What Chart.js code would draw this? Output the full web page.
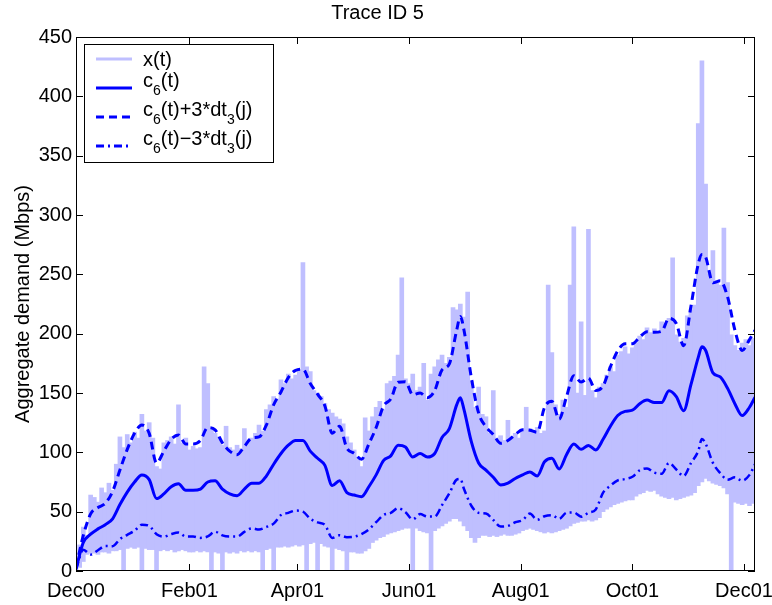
<!DOCTYPE html>
<html>
<head>
<meta charset="utf-8">
<title>Trace ID 5</title>
<script src="https://cdn.jsdelivr.net/npm/chart.js@4.4.1/dist/chart.umd.min.js"></script>
<style>
  body { margin: 0; background: #fff; }
  #wrap { width: 772px; height: 605px; }
</style>
</head>
<body>
<div id="wrap"><canvas id="trace-chart" width="772" height="605"></canvas></div>
<script>
// days counted from 1 Dec 2000
const tickDays   = [0, 62, 121, 182, 243, 304, 365];
const tickLabels = ["Dec00", "Feb01", "Apr01", "Jun01", "Aug01", "Oct01", "Dec01"];
const yTicks     = [0, 50, 100, 150, 200, 250, 300, 350, 400, 450];
const lastDay    = 371;

// x(t): per 2-day sample, highest and lowest reading
const sampleStep = 2;
const xHigh = [
  4, 22, 37, 30, 64, 62, 58, 70, 66, 74,
  68, 90, 113, 104, 115, 108, 117, 112, 132, 118,
  125, 112, 88, 86, 108, 110, 113, 107, 140, 108,
  112, 102, 105, 103, 104, 172, 158, 119, 116, 113,
  106, 122, 104, 102, 106, 103, 120, 108, 112, 116,
  123, 118, 136, 140, 147, 145, 161, 158, 166, 162,
  165, 170, 260, 172, 168, 152, 150, 147, 141, 136,
  133, 130, 128, 124, 113, 108, 102, 96, 88, 129,
  118, 130, 138, 143, 136, 158, 160, 164, 182, 247,
  162, 158, 166, 152, 155, 175, 144, 166, 172, 178,
  182, 175, 180, 222, 220, 225, 214, 235, 160, 138,
  155, 132, 130, 116, 152, 112, 114, 110, 127, 113,
  116, 112, 118, 138, 120, 117, 121, 116, 118, 241,
  184, 140, 132, 144, 138, 241, 290, 150, 210, 148,
  288, 152, 146, 155, 158, 165, 172, 168, 182, 185,
  189, 183, 188, 192, 198, 195, 205, 201, 204, 202,
  210, 208, 213, 264, 199, 193, 196, 215, 220, 224,
  377, 430, 326, 250, 270, 245, 241, 289, 243, 199,
  190, 186, 192, 195, 190, 196
];
const xLow = [
  0, 3, 8, 14, 15, 15, 14, 16, 16, 15,
  17, 17, 18, 0, 19, 20, 19, 20, 0, 19,
  18, 18, 0, 17, 18, 17, 18, 16, 17, 18,
  17, 16, 16, 17, 16, 17, 16, 0, 16, 15,
  0, 16, 15, 16, 15, 17, 16, 17, 16, 17,
  16, 0, 18, 19, 0, 20, 20, 21, 20, 21,
  22, 21, 22, 0, 23, 24, 0, 23, 21, 20,
  0, 19, 18, 17, 0, 16, 16, 15, 15, 17,
  19, 24, 26, 28, 29, 31, 32, 33, 34, 35,
  36, 36, 0, 36, 34, 33, 32, 0, 34, 36,
  38, 40, 42, 44, 44, 42, 38, 34, 28, 24,
  28, 30, 30, 29, 30, 29, 30, 31, 30, 30,
  31, 32, 34, 35, 36, 35, 34, 33, 32, 33,
  32, 33, 34, 35, 36, 38, 40, 41, 42, 42,
  43, 42, 43, 45, 50, 52, 54, 56, 57, 58,
  59, 60, 60, 63, 65, 66, 68, 67, 68, 65,
  63, 62, 61, 62, 60, 61, 62, 63, 64, 66,
  72, 75, 78, 76, 74, 73, 72, 70, 65, 0,
  58, 57, 56, 57, 55, 57
];

// smoothed level c6(t) and spread dt3(j)
const curveDays = [
  0, 4, 8, 12, 16, 20, 24, 28, 32, 36, 40, 44, 48, 52, 56, 60, 64, 68, 72, 76,
  80, 84, 88, 92, 96, 100, 104, 108, 112, 116, 120, 124, 128, 132, 136, 140, 144, 148, 152, 156,
  160, 164, 168, 172, 176, 180, 184, 188, 192, 196, 200, 204, 208, 210, 212, 216, 220, 224, 228, 232,
  236, 240, 244, 248, 252, 256, 260, 264, 268, 272, 276, 280, 284, 288, 292, 296, 300, 304, 308, 312,
  316, 320, 324, 328, 332, 336, 340, 342, 344, 348, 352, 356, 360, 364, 368, 371
];
const c6 = [
  2, 24, 31, 35.5, 39, 44, 56, 66.5, 75, 81, 77, 61, 65, 71, 73.5, 68, 68, 69, 75, 76,
  69, 65, 63.5, 69, 74, 74, 80, 90, 99, 106, 110, 110, 101, 95, 89, 72, 76, 66, 64, 62.6,
  71, 81, 93, 97, 106, 104.5, 96, 99, 96, 99, 112.5, 120, 140, 146, 136, 109, 91, 85, 79, 72.5,
  74, 78, 81, 83.5, 80, 92, 95, 86, 98, 107, 102.5, 105.8, 102, 111, 122, 131, 134.5, 135.5, 141, 144,
  142, 142, 152, 147, 135, 157, 180, 189, 186, 167, 163.5, 154, 141, 131, 138, 146.4
];
const dt3 = [
  0.3, 2, 5.7, 6, 6, 7.7, 9.7, 12, 13.7, 14, 13, 10, 12, 13.3, 13.7, 13, 13, 13.7, 15.3, 14.3,
  13, 12, 11.5, 12, 12.7, 13, 14.3, 16.7, 17.3, 19, 19.7, 20, 19, 18, 16.7, 14.7, 15.3, 12.5, 11.7, 10.5,
  12, 13.3, 15.3, 16, 17.7, 18.3, 17.5, 17, 16.7, 17.7, 19, 18.2, 21, 22.8, 22.3, 18, 14, 12.2, 12, 11.7,
  12, 12.3, 12.7, 11.7, 12.3, 15.3, 16, 14, 16.3, 19.2, 18.9, 18.9, 16.7, 15, 16.7, 18.2, 19, 18.7, 18.7, 19.2,
  19.7, 20, 20.3, 20.5, 18.3, 22, 26.3, 25.9, 26.2, 25.3, 27, 25.7, 20.7, 18.3, 19, 18.8
];

const BAND = "#bfbfff";
const BLUE = "#0000ff";
const FONT = "'Liberation Sans', Arial, Helvetica, sans-serif";

Chart.defaults.font.family = FONT;
Chart.defaults.color = "#000";

const bandData  = xHigh.map((hi, i) => ({ x: i * sampleStep, y: [xLow[i], hi] }));
const levelData = curveDays.map((d, i) => ({ x: d, y: c6[i] }));
const upperData = curveDays.map((d, i) => ({ x: d, y: c6[i] + 3 * dt3[i] }));
const lowerData = curveDays.map((d, i) => ({ x: d, y: c6[i] - 3 * dt3[i] }));

const labelByDay = {};
tickDays.forEach((d, i) => { labelByDay[d] = tickLabels[i]; });

// box round the plot with inward tick marks on all four sides
const framePlugin = {
  id: "frame",
  afterDatasetsDraw(chart) {
    const { ctx, chartArea: a, scales: { x, y } } = chart;
    ctx.save();
    ctx.strokeStyle = "#000";
    ctx.lineWidth = 1;
    ctx.beginPath();
    y.ticks.forEach(t => {
      const py = Math.round(y.getPixelForValue(t.value)) + 0.5;
      ctx.moveTo(a.left, py);  ctx.lineTo(a.left + 7, py);
      ctx.moveTo(a.right, py); ctx.lineTo(a.right - 7, py);
    });
    x.ticks.forEach(t => {
      const px = Math.round(x.getPixelForValue(t.value)) + 0.5;
      ctx.moveTo(px, a.bottom); ctx.lineTo(px, a.bottom - 7);
      ctx.moveTo(px, a.top);    ctx.lineTo(px, a.top + 7);
    });
    ctx.stroke();
    ctx.strokeRect(Math.round(a.left) + 0.5, Math.round(a.top) + 0.5,
                   Math.round(a.right - a.left) - 1, Math.round(a.bottom - a.top) - 1);
    ctx.restore();
  }
};

// legend entries, text split into [string, isSubscript] runs
const legendRows = [
  { parts: [["x(t)", false]], color: BAND, dash: [] },
  { parts: [["c", false], ["6", true], ["(t)", false]], color: BLUE, dash: [] },
  { parts: [["c", false], ["6", true], ["(t)+3*dt", false], ["3", true], ["(j)", false]], color: BLUE, dash: [8, 5] },
  { parts: [["c", false], ["6", true], ["(t)\u22123*dt", false], ["3", true], ["(j)", false]], color: BLUE, dash: [8, 4, 2, 4] }
];

const legendPlugin = {
  id: "boxLegend",
  afterDraw(chart) {
    const ctx = chart.ctx;
    const box = { x: 84, y: 44, w: 189, h: 118 };
    ctx.save();
    ctx.fillStyle = "#fff";
    ctx.fillRect(box.x, box.y, box.w, box.h);
    ctx.strokeStyle = "#000";
    ctx.lineWidth = 1;
    ctx.strokeRect(box.x + 0.5, box.y + 0.5, box.w, box.h);

    legendRows.forEach((row, i) => {
      const ly = 59 + i * 29;
      ctx.strokeStyle = row.color;
      ctx.lineWidth = 3;
      ctx.setLineDash(row.dash);
      ctx.beginPath();
      ctx.moveTo(96, ly);
      ctx.lineTo(132, ly);
      ctx.stroke();
      ctx.setLineDash([]);

      const hasSub = row.parts.some(p => p[1]);
      const ty = hasSub ? ly - 7 : ly + 1;
      let tx = 143;
      ctx.fillStyle = "#000";
      ctx.textBaseline = "middle";
      row.parts.forEach(([text, sub]) => {
        ctx.font = sub ? `14px ${FONT}` : `20px ${FONT}`;
        ctx.fillText(text, tx, sub ? ty + 10 : ty);
        tx += ctx.measureText(text).width;
      });
    });
    ctx.restore();
  }
};

new Chart(document.getElementById("trace-chart"), {
  data: {
    datasets: [
      {
        type: "bar",
        label: "x(t)",
        data: bandData,
        backgroundColor: BAND,
        borderWidth: 0,
        barThickness: 4,
        grouped: false,
        order: 4,
      },
      {
        type: "line",
        label: "c6(t)",
        data: levelData,
        borderColor: BLUE,
        borderWidth: 3,
        pointRadius: 0,
        cubicInterpolationMode: "monotone",
        order: 1,
      },
      {
        type: "line",
        label: "c6(t)+3*dt3(j)",
        data: upperData,
        borderColor: BLUE,
        borderWidth: 3,
        borderDash: [8, 5],
        pointRadius: 0,
        cubicInterpolationMode: "monotone",
        order: 2,
      },
      {
        type: "line",
        label: "c6(t)-3*dt3(j)",
        data: lowerData,
        borderColor: BLUE,
        borderWidth: 2.5,
        borderDash: [8, 4, 2, 4],
        pointRadius: 0,
        cubicInterpolationMode: "monotone",
        order: 3,
      },
    ],
  },
  options: {
    responsive: false,
    animation: false,
    events: [],
    layout: { padding: { left: 0, right: 17, top: 0, bottom: 0 } },
    plugins: {
      legend: { display: false },
      tooltip: { enabled: false },
      title: {
        display: true,
        text: "Trace ID 5",
        color: "#000",
        font: { size: 20, weight: "normal" },
        padding: { top: 1, bottom: 12 },
      },
    },
    scales: {
      x: {
        type: "linear",
        min: 0,
        max: lastDay,
        offset: false,
        grid: { display: false, drawTicks: false },
        border: { display: false },
        afterBuildTicks: scale => { scale.ticks = tickDays.map(v => ({ value: v })); },
        afterFit: scale => { scale.height = 34; scale.paddingLeft = 0; scale.paddingRight = 0; },
        ticks: {
          autoSkip: false,
          maxRotation: 0,
          padding: 8,
          color: "#000",
          font: { size: 20 },
          callback: v => labelByDay[v] ?? "",
        },
      },
      y: {
        min: 0,
        max: 450,
        grid: { display: false, drawTicks: false },
        border: { display: false },
        afterBuildTicks: scale => { scale.ticks = yTicks.map(v => ({ value: v })); },
        afterFit: scale => { scale.width = 76; scale.paddingTop = 0; scale.paddingBottom = 0; },
        ticks: {
          padding: 4,
          color: "#000",
          font: { size: 20 },
        },
        title: {
          display: true,
          text: "Aggregate demand (Mbps)",
          color: "#000",
          font: { size: 20 },
          padding: { top: 11, bottom: 0 },
        },
      },
    },
  },
  plugins: [framePlugin, legendPlugin],
});
</script>
</body>
</html>
